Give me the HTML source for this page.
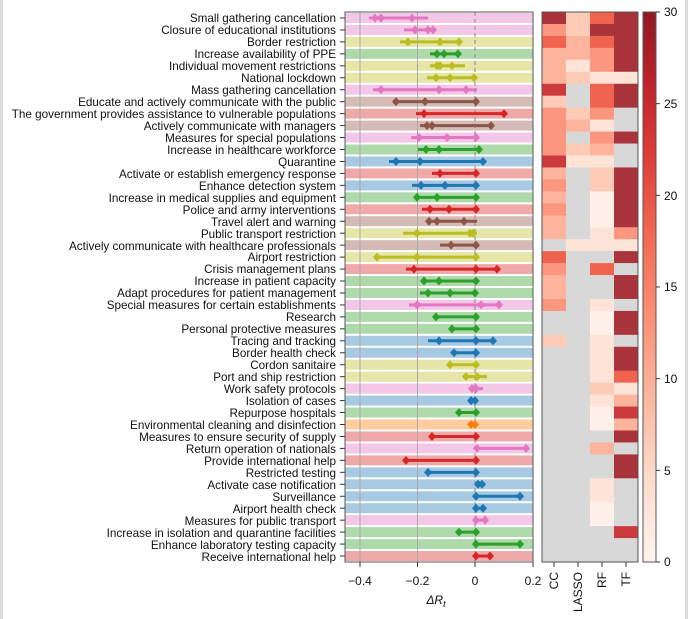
<!DOCTYPE html>
<html><head><meta charset="utf-8"><style>
body{margin:0;background:#fff;}
svg{display:block;font-family:"Liberation Sans",sans-serif;}
</style></head><body>
<svg id="s" width="688" height="619" xmlns="http://www.w3.org/2000/svg">
<rect x="0" y="0" width="3" height="619" fill="#dcdcdc"/>
<rect x="685" y="0" width="3" height="619" fill="#dcdcdc"/>
<g id="bands"></g>
<g font-size="11.7" text-anchor="end" fill="#111">
<text x="336" y="22">Small gathering cancellation</text>
<text x="336" y="34">Closure of educational institutions</text>
<text x="336" y="46">Border restriction</text>
<text x="336" y="58">Increase availability of PPE</text>
<text x="336" y="70">Individual movement restrictions</text>
<text x="336" y="82">National lockdown</text>
<text x="336" y="94">Mass gathering cancellation</text>
<text x="336" y="106">Educate and actively communicate with the public</text>
<text x="336" y="118">The government provides assistance to vulnerable populations</text>
<text x="336" y="130">Actively communicate with managers</text>
<text x="336" y="142">Measures for special populations</text>
<text x="336" y="154">Increase in healthcare workforce</text>
<text x="336" y="166">Quarantine</text>
<text x="336" y="178">Activate or establish emergency response</text>
<text x="336" y="190">Enhance detection system</text>
<text x="336" y="202">Increase in medical supplies and equipment</text>
<text x="336" y="214">Police and army interventions</text>
<text x="336" y="226">Travel alert and warning</text>
<text x="336" y="238">Public transport restriction</text>
<text x="336" y="250">Actively communicate with healthcare professionals</text>
<text x="336" y="261">Airport restriction</text>
<text x="336" y="273">Crisis management plans</text>
<text x="336" y="285">Increase in patient capacity</text>
<text x="336" y="297">Adapt procedures for patient management</text>
<text x="336" y="309">Special measures for certain establishments</text>
<text x="336" y="321">Research</text>
<text x="336" y="333">Personal protective measures</text>
<text x="336" y="345">Tracing and tracking</text>
<text x="336" y="357">Border health check</text>
<text x="336" y="369">Cordon sanitaire</text>
<text x="336" y="381">Port and ship restriction</text>
<text x="336" y="393">Work safety protocols</text>
<text x="336" y="405">Isolation of cases</text>
<text x="336" y="417">Repurpose hospitals</text>
<text x="336" y="429">Environmental cleaning and disinfection</text>
<text x="336" y="441">Measures to ensure security of supply</text>
<text x="336" y="453">Return operation of nationals</text>
<text x="336" y="465">Provide international help</text>
<text x="336" y="477">Restricted testing</text>
<text x="336" y="489">Activate case notification</text>
<text x="336" y="501">Surveillance</text>
<text x="336" y="513">Airport health check</text>
<text x="336" y="525">Measures for public transport</text>
<text x="336" y="537">Increase in isolation and quarantine facilities</text>
<text x="336" y="549">Enhance laboratory testing capacity</text>
<text x="336" y="561">Receive international help</text>
</g>
<g font-size="12" text-anchor="middle" fill="#111">
<text x="360" y="585">−0.4</text>
<text x="417.5" y="585">−0.2</text>
<text x="475" y="585">0</text>
<text x="533" y="585">0.2</text>
<text x="436" y="604" font-style="italic">ΔR<tspan font-size="9" dy="3">t</tspan></text>
</g>
<g font-size="12" fill="#111">
<text transform="translate(558,572) rotate(-90)" text-anchor="end">CC</text>
<text transform="translate(582,572) rotate(-90)" text-anchor="end">LASSO</text>
<text transform="translate(606,572) rotate(-90)" text-anchor="end">RF</text>
<text transform="translate(630,572) rotate(-90)" text-anchor="end">TF</text>
</g>
<defs><linearGradient id="cb" x1="0" y1="1" x2="0" y2="0">
<stop offset="0" stop-color="#fff3ee"/><stop offset="0.15" stop-color="#fddccd"/>
<stop offset="0.3" stop-color="#fcb79e"/><stop offset="0.45" stop-color="#fb8f74"/>
<stop offset="0.6" stop-color="#f26751"/><stop offset="0.75" stop-color="#dc3a36"/>
<stop offset="0.88" stop-color="#bd2128"/><stop offset="1" stop-color="#8e1a22"/>
</linearGradient></defs>
<rect x="643" y="12" width="13" height="550" fill="url(#cb)" stroke="#555" stroke-width="1"/>
<g font-size="12" fill="#111">
<text x="664" y="16">30</text><text x="664" y="108">25</text><text x="664" y="200">20</text>
<text x="664" y="291">15</text><text x="664" y="383">10</text><text x="664" y="475">5</text><text x="664" y="566">0</text>
</g>
<g id="fg"></g>
</svg>
<script>
(function(){
var NS="http://www.w3.org/2000/svg";
function el(p,t,a){var e=document.createElementNS(NS,t);for(var k in a)e.setAttribute(k,a[k]);p.appendChild(e);return e;}
var C={p:["#e377c2","#f3c7e7"],o:["#bcbd22","#e5e6a8"],g:["#2ca02c","#aed9ab"],b:["#8c564b","#d5bbb6"],r:["#d62728","#f0a9a9"],u:["#1f77b4","#a7c9e2"],n:["#ff7f0e","#ffcc9e"]};
var R=[
["p",369,428,[375,381,412]],["p",404,436,[415,428,433]],["o",400,462,[408,440,459]],["g",430,460,[437,444,458]],
["o",430,465,[437,440,452]],["o",427,476,[436,450,474]],["p",373,477,[381,439,466]],["b",393,476,[396,425,476]],
["r",416,504,[424,504]],["b",420,492,[427,432,491]],["p",411,476,[419,447,476]],["g",418,480,[426,439,479]],
["u",389,483,[396,420,483]],["r",432,476,[440,476]],["u",412,476,[421,445,476]],["g",415,476,[417,437,476]],
["r",422,476,[430,449,476]],["b",427,477,[429,437,464]],["o",403,477,[417,470,473]],["b",440,476,[451,476]],
["o",375,476,[377,417,476]],["r",406,499,[414,476,497]],["g",422,476,[424,439,476]],["g",420,476,[428,450,475]],
["p",409,501,[417,481,499]],["g",436,476,[436,476]],["g",450,476,[452,476]],["u",428,495,[439,476,493]],
["u",452,476,[454,476]],["o",448,476,[450,476]],["o",463,487,[466,477]],["p",470,483,[472,476]],
["u",470,477,[471,475]],["g",457,476,[459,476]],["n",470,476,[471,475]],["r",430,476,[432,476]],
["p",476,527,[477,526]],["r",406,476,[406,476]],["u",427,476,[428,476]],["u",476,485,[478,482]],
["u",476,521,[476,520]],["u",476,484,[476,483]],["p",476,486,[476,485]],["g",458,476,[459,476]],
["g",476,520,[476,520]],["r",476,490,[476,490]]];
var H=["D 2 5 D","4 2 D D","5 3 5 D","3 3 4 D","3 1 4 D","3 2 1 1","6 G 5 D","2 G 5 D","4 2 4 G","4 3 1 G","4 G 4 D","4 2 3 G","6 1 1 G","3 G 2 D","4 G 2 D","3 G 0 D",
"4 G 0 D","3 G 0 D","3 G 1 4","G 1 1 1","5 G G D","4 G 5 G","3 G G D","3 G G D","4 G 1 G","G G 0 D","G G 0 D","2 G 1 G","G G 1 D","G G 1 D","G G 1 5","G G 2 1","G G 1 3",
"G G 0 6","G G 0 3","G G G D","G G 3 G","G G G D","G G G D","G G 1 G","G G 1 G","G G 0 G","G G 0 G","G G G 6","G G G G","G G G G"];
var HC={G:"#d8d8d8","0":"#fff0ea","1":"#fee3d7","2":"#fdcbb6","3":"#fcb49c","4":"#fb977e","5":"#f0634f","6":"#cd3a3e",D:"#a9343c"};
var bg=document.getElementById("bands"),fg=document.getElementById("fg");
var T0=12,h=550/46;
R.forEach(function(r,i){var y=T0+h*i;el(bg,"rect",{x:345,y:y+1,width:188,height:h-2,fill:C[r[0]][1]});});
[360,417.5].forEach(function(x){el(bg,"line",{x1:x,y1:12,x2:x,y2:562,stroke:"#aaa","stroke-width":1});});
el(bg,"line",{x1:475,y1:12,x2:475,y2:562,stroke:"#888","stroke-width":1,"stroke-dasharray":"4,3"});
R.forEach(function(r,i){var cy=T0+h*(i+0.5),c=C[r[0]][0];
 el(fg,"line",{x1:r[1],y1:cy,x2:r[2],y2:cy,stroke:c,"stroke-width":3});
 r[3].forEach(function(x){el(fg,"polygon",{points:(x-4)+","+cy+" "+x+","+(cy-4.5)+" "+(x+4)+","+cy+" "+x+","+(cy+4.5),fill:c});});
 el(fg,"line",{x1:340,y1:cy,x2:345,y2:cy,stroke:"#333","stroke-width":1});
 var v=H[i].split(" ");
 v.forEach(function(k,j){el(bg,"rect",{x:542+24*j,y:T0+h*i,width:24.5,height:h+0.5,fill:HC[k]});});
});
el(fg,"rect",{x:345,y:12,width:188,height:550,fill:"none",stroke:"#555","stroke-width":1});
el(fg,"rect",{x:542,y:12,width:96,height:550,fill:"none",stroke:"#555","stroke-width":1});
[360,417.5,475,533].forEach(function(x){el(fg,"line",{x1:x,y1:562,x2:x,y2:567,stroke:"#333"});});
[554,578,602,626].forEach(function(x){el(fg,"line",{x1:x,y1:562,x2:x,y2:567,stroke:"#333"});});
for(var k=0;k<=6;k++){var y=562-k*550/6;el(fg,"line",{x1:656,y1:y,x2:660,y2:y,stroke:"#333"});}
})();
</script>
</body></html>
